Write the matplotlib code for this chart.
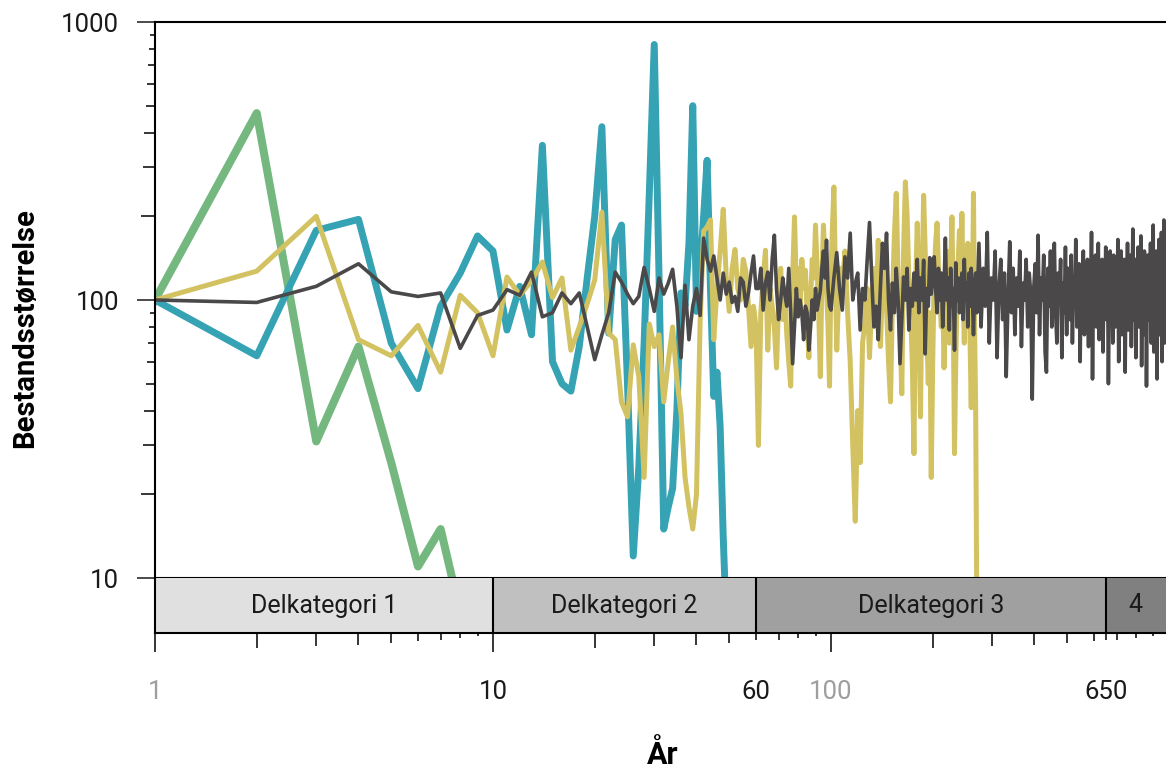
import numpy as np
import matplotlib
matplotlib.use("Agg")
import matplotlib.pyplot as plt
import matplotlib.transforms as mtransforms
from matplotlib.ticker import NullFormatter

plt.rcParams['font.family'] = ['Roboto', 'DejaVu Sans']

## Data (years and population sizes)
yrs_early = list(range(1, 101))           # yearly 1..100
yrs_mid = list(range(102, 272, 2))        # every 2nd year 102..270
yrs_late = list(range(274, 983, 4))       # every 4th year 274..982

green_yrs = list(range(1, 9))
green_vals = [100, 470, 31, 68, 26, 11, 15, 7.5]

teal_yrs = list(range(1, 50))
teal_vals = [100, 63, 178, 195, 70, 48, 95, 125, 170, 150,
             78, 112, 75, 360, 60, 50, 47, 68, 120, 200,
             420, 76, 165, 186, 50, 12, 25, 70, 240, 830,
             120, 15, 18, 21, 40, 106, 95, 160, 500, 91,
             130, 200, 318, 110, 45, 55, 35, 14, 7]

yellow_early = [100, 127, 200, 72, 63, 81, 55, 104, 90, 63,
                121, 104, 117, 137, 102, 120, 66, 80, 97, 118,
                207, 76, 72, 43, 38, 69, 53, 23, 82, 68,
                75, 43, 60, 80, 52, 39, 23, 18, 15, 20,
                83, 177, 183, 194, 72, 110, 150, 212, 120, 91,
                130, 152, 110, 100, 140, 127, 95, 68, 95, 80,
                30, 90, 120, 151, 66, 110, 95, 80, 57, 100,
                130, 85, 110, 75, 60, 49, 120, 199, 110, 130,
                95, 140, 110, 128, 90, 62, 100, 140, 120, 186,
                130, 90, 53, 120, 186, 140, 110, 80, 49, 130]
yellow_mid = [255, 66, 130, 110, 150, 90, 60, 30, 16, 40,
              26, 70, 83, 110, 62, 100, 130, 90, 164, 68,
              110, 130, 95, 60, 43, 100, 170, 242, 120, 80,
              46, 150, 266, 200, 120, 90, 60, 28, 110, 189,
              100, 38, 120, 238, 150, 80, 50, 90, 23, 60,
              120, 160, 189, 130, 100, 80, 110, 57, 90, 150,
              120, 70, 130, 199, 90, 28, 60, 100, 140, 178,
              120, 205, 110, 70, 140, 90, 160, 120, 70, 41,
              90, 242, 80, 40, 8]

grey_early = [100, 98, 112, 135, 107, 103, 106, 67, 88, 92,
              109, 104, 126, 87, 90, 106, 97, 106, 80, 61,
              75, 90, 126, 116, 105, 97, 103, 131, 110, 91,
              120, 105, 115, 129, 95, 62, 113, 72, 95, 110,
              88, 167, 140, 127, 144, 120, 100, 125, 105, 116,
              98, 103, 91, 120, 116, 95, 106, 125, 144, 110,
              110, 130, 92, 115, 126, 100, 140, 171, 110, 85,
              100, 120, 105, 95, 130, 90, 59, 80, 110, 87,
              100, 90, 72, 95, 90, 66, 80, 100, 85, 110,
              92, 100, 108, 130, 150, 120, 164, 110, 95, 92]
grey_mid = [120, 148, 110, 92, 143, 120, 174, 100, 115, 125,
            78, 110, 100, 140, 190, 120, 80, 95, 72, 110,
            160, 130, 174, 100, 78, 115, 90, 130, 100, 59,
            85, 121, 100, 130, 78, 110, 95, 125, 100, 140,
            90, 120, 100, 139, 64, 110, 95, 142, 105, 120,
            143, 110, 90, 130, 100, 125, 80, 110, 167, 100,
            120, 78, 130, 95, 110, 66, 136, 100, 120, 90,
            110, 125, 85, 140, 100, 115, 80, 125, 95, 130,
            105, 75, 110, 125, 90]
grey_late = [160, 80, 130, 95, 175, 70, 120, 100, 150, 62,
             110, 140, 85, 125, 53, 100, 162, 90, 130, 75,
             120, 95, 150, 68, 115, 100, 140, 80, 125, 105,
             44, 110, 135, 90, 171, 75, 120, 100, 145, 65,
             55, 130, 95, 150, 80, 118, 160, 90, 70, 125,
             100, 140, 62, 115, 90, 155, 75, 130, 105, 85,
             145, 70, 120, 95, 165, 80, 110, 135, 60, 125,
             90, 150, 75, 115, 100, 140, 68, 130, 95, 175,
             52, 120, 105, 145, 80, 110, 160, 72, 125, 95,
             140, 65, 118, 100, 155, 85, 130, 50, 110, 150,
             90, 125, 70, 145, 105, 80, 135, 95, 165, 60,
             115, 100, 150, 75, 125, 90, 140, 55, 120, 105,
             160, 78, 130, 95, 145, 68, 115, 180, 85, 110,
             140, 62, 125, 100, 155, 80, 120, 95, 170, 58,
             115, 135, 75, 150, 90, 125, 49, 110, 145, 85,
             130, 100, 160, 70, 120, 95, 186, 65, 140, 105,
             80, 150, 52, 125, 100, 165, 75, 135, 90, 175,
             60, 140, 110, 194, 70, 130, 85, 150]

yellow_yrs = yrs_early + yrs_mid
yellow_vals = yellow_early + yellow_mid
grey_yrs = yrs_early + yrs_mid + yrs_late
grey_vals = grey_early + grey_mid + grey_late

cat_edges = [1, 10, 60, 650, 980]
cat_labels = ['Delkategori 1', 'Delkategori 2', 'Delkategori 3', '4']
cat_colors = ['#e0e0e0', '#c0c0c0', '#a0a0a0', '#808080']

xtick_vals = [1, 10, 60, 100, 650]
xtick_labels = ['1', '10', '60', '100', '650']
xtick_colors = ['#9e9e9e', '#1a1a1a', '#1a1a1a', '#9e9e9e', '#1a1a1a']

W, H = 1166, 774
fig = plt.figure(figsize=(W / 100, H / 100), dpi=100)

# main plot
ax = fig.add_axes([155 / W, 1 - 578 / H, 1 - 155 / W, 556 / H])
ax.set_xscale('log')
ax.set_yscale('log')
ax.set_xlim(1, 980)
ax.set_ylim(10, 1000)

ax.plot(green_yrs, green_vals, color='#74b880', lw=5.8)
ax.plot(teal_yrs, teal_vals, color='#35a3b3', lw=5.0)
ax.plot(yellow_yrs, yellow_vals, color='#d3c262', lw=3.6)
ax.plot(grey_yrs, grey_vals, color='#4a4848', lw=2.6)

for s in ['top', 'left', 'bottom']:
    ax.spines[s].set_linewidth(1.5)
ax.spines['right'].set_visible(False)
ax.tick_params(axis='x', which='both', bottom=False, labelbottom=False)

ax.set_yticks([10, 100, 1000], ['10', '100', '1000'])
y_minor = [20, 30, 40, 50, 60, 70, 80, 90, 200, 300, 400, 500, 600, 700, 800, 900]
ax.set_yticks(y_minor, minor=True)
ax.yaxis.set_minor_formatter(NullFormatter())
ax.tick_params(axis='y', which='major', length=13, width=1.1, pad=13,
               labelsize=18.5, colors='#1a1a1a')
ax.tick_params(axis='y', which='minor', length=6, width=1.1)

# category band below the plot
ax2 = fig.add_axes([155 / W, 1 - 633 / H, 1 - 155 / W, 55 / H])
ax2.set_xscale('log')
ax2.set_xlim(1, 980)
ax2.set_ylim(0, 1)
ax2.set_yticks([])
trans = mtransforms.blended_transform_factory(ax2.transData, ax2.transAxes)
for i in range(len(cat_labels)):
    lo, hi = cat_edges[i], cat_edges[i + 1]
    ax2.axvspan(lo, hi, color=cat_colors[i], lw=0)
    ax2.text(np.sqrt(lo * hi), 0.5, cat_labels[i], transform=trans,
             ha='center', va='center', fontsize=18, color='#1a1a1a')
for e in cat_edges[1:-1]:
    ax2.axvline(e, color='black', lw=1.5)
for s in ['left', 'bottom']:
    ax2.spines[s].set_linewidth(1.5)
ax2.spines['top'].set_visible(False)
ax2.spines['right'].set_visible(False)

ax2.set_xticks(xtick_vals, xtick_labels)
x_minor = [2, 3, 4, 5, 6, 7, 8, 9, 20, 30, 40, 50, 70, 80, 90,
           200, 300, 400, 500, 600, 700, 800, 900]
ax2.set_xticks(x_minor, minor=True)
ax2.xaxis.set_minor_formatter(NullFormatter())
ax2.tick_params(axis='x', which='major', length=13.7, width=1.1, pad=20,
                labelsize=18.5)
ax2.tick_params(axis='x', which='minor', length=6, width=1.1)
for lab, c in zip(ax2.get_xticklabels(), xtick_colors):
    lab.set_color(c)

# tick lengths shrink through each decade (pixels)
x_len = {2: 15, 3: 13, 4: 12, 5: 10, 6: 8, 7: 7, 8: 5, 9: 3}
y_len = {2: 14, 3: 12, 4: 11, 5: 9, 6: 8, 7: 7, 8: 6, 9: 5}


def mant(v):
    return int(round(v / 10 ** np.floor(np.log10(v) + 1e-9)))


for t, v in zip(ax2.xaxis.get_minor_ticks(len(x_minor)), x_minor):
    t.tick1line.set_markersize(x_len[mant(v)] * 0.72)
for t, v in zip(ax.yaxis.get_minor_ticks(len(y_minor)), y_minor):
    t.tick1line.set_markersize(y_len[mant(v)] * 0.72)
maj_len = {1: 19, 10: 19, 60: 7, 100: 19, 650: 7}
for t, v in zip(ax2.xaxis.get_major_ticks(len(xtick_vals)), xtick_vals):
    t.tick1line.set_markersize(maj_len[v] * 0.72)

fig.text(25 / W, 1 - 328 / H, 'Bestandsstørrelse', rotation=90, ha='center',
         va='center', fontsize=21, fontweight='bold',
         family=['Liberation Sans Narrow', 'Roboto', 'DejaVu Sans'])
fig.text(663 / W, 4 / H, 'År', ha='center', va='bottom', fontsize=22,
         fontweight='bold',
         family=['Liberation Sans Narrow', 'Roboto', 'DejaVu Sans'])

fig.savefig('out.png', dpi=100)
